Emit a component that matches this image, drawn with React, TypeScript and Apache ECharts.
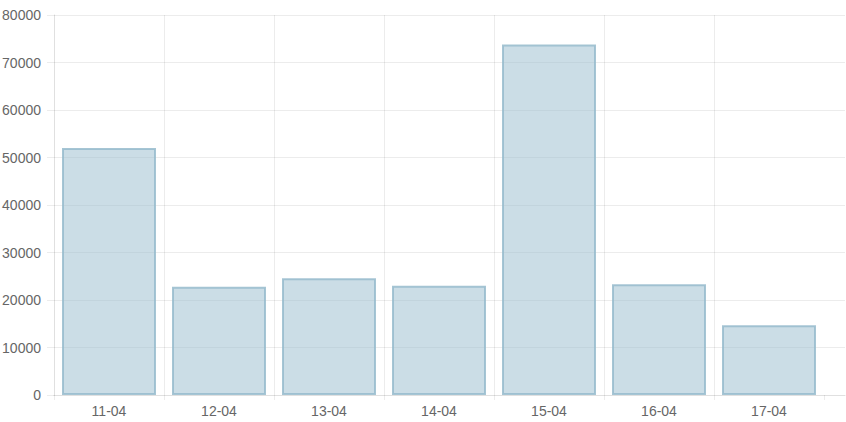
import React, { useEffect, useRef } from "react";
import * as echarts from "echarts";

const categories = ["11-04", "12-04", "13-04", "14-04", "15-04", "16-04", "17-04"];
const values = [52000, 22800, 24600, 23000, 73800, 23300, 14700];
const yMin = 0;
const yMax = 80000;
const yInterval = 10000;

export default function App() {
  const ref = useRef<HTMLDivElement>(null);
  useEffect(() => {
    if (!ref.current) return;
    const chart = echarts.init(ref.current, null, { renderer: "svg" });
    const font = "'Liberation Sans', Arial, Helvetica, sans-serif";
    const gridColor = "rgba(0,0,0,0.075)";
    const axisColor = "rgba(0,0,0,0.12)";
    chart.setOption({
      animation: false,
      grid: [
        { left: 54, right: 22, top: 15, bottom: 27, containLabel: false, outerBoundsMode: "none" },
        { left: 54, right: 1, top: 15, bottom: 27, containLabel: false, outerBoundsMode: "none" },
      ],
      xAxis: [
        {
          type: "category",
          gridIndex: 0,
          data: categories,
          boundaryGap: true,
          axisLine: { show: false },
          axisTick: { show: true, length: 5, interval: 0, lineStyle: { color: gridColor } },
          axisLabel: { color: "#666", fontSize: 14, fontFamily: font, margin: 9, interval: 0 },
          splitLine: { show: true, interval: 0, showMinLine: false, showMaxLine: false, lineStyle: { color: gridColor, width: 1 } },
        },
        {
          type: "value",
          gridIndex: 1,
          min: 0,
          max: 1,
          axisLine: { show: true, lineStyle: { color: axisColor, width: 1 } },
          axisTick: { show: false },
          axisLabel: { show: false },
          splitLine: { show: false },
        },
      ],
      yAxis: [
        {
          type: "value",
          gridIndex: 0,
          min: yMin,
          max: yMax,
          interval: yInterval,
          axisLine: { show: true, lineStyle: { color: axisColor } },
          axisTick: { show: true, length: 7, lineStyle: { color: gridColor } },
          axisLabel: {
            color: "#666",
            fontSize: 14,
            fontFamily: font,
            margin: 13,
            formatter: (v: number) => String(v),
          },
          splitLine: { show: false },
        },
        {
          type: "value",
          gridIndex: 1,
          min: yMin,
          max: yMax,
          interval: yInterval,
          axisLine: { show: false },
          axisTick: { show: false },
          axisLabel: { show: false },
          splitLine: { show: true, showMinLine: false, lineStyle: { color: gridColor, width: 1 } },
        },
      ],
      series: [
        {
          type: "bar",
          xAxisIndex: 0,
          yAxisIndex: 0,
          data: values,
          barWidth: 94,
          itemStyle: {
            color: "rgba(151,187,205,0.5)",
            borderColor: "rgba(151,187,205,0.85)",
            borderWidth: 2,
          },
          emphasis: { disabled: true },
        },
      ],
    });
    return () => chart.dispose();
  }, []);
  return (
    <div
      ref={ref}
      style={{ position: "fixed", left: 0, top: 0, width: 846, height: 422, background: "#fff" }}
    />
  );
}
